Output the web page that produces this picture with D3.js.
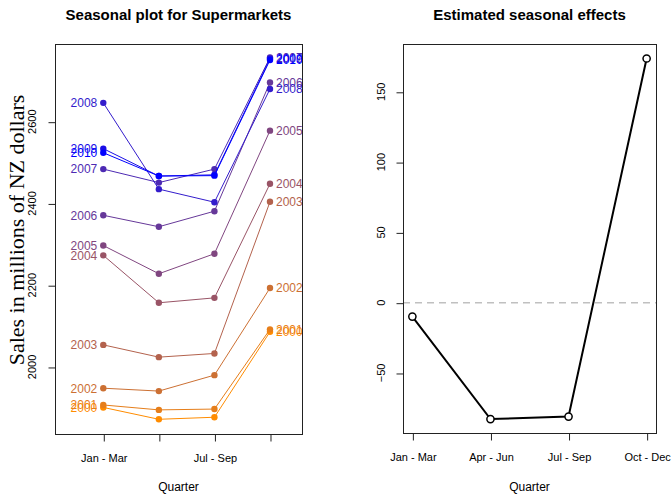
<!DOCTYPE html>
<html>
<head>
<meta charset="utf-8">
<script src="https://cdn.jsdelivr.net/npm/d3@7"></script>
<style>
  body { margin: 0; background: #fff; }
  svg { display: block; }
  text { font-family: "Liberation Sans", Arial, sans-serif; fill: #000; }
</style>
</head>
<body>
<svg id="chart" width="671" height="495"></svg>
<script>
// Quarterly supermarket sales (millions of NZ dollars), one array per year
const quarters = ["Jan - Mar", "Apr - Jun", "Jul - Sep", "Oct - Dec"];
const years = [2000, 2001, 2002, 2003, 2004, 2005, 2006, 2007, 2008, 2009, 2010];
const sales2000 = [1901, 1872, 1877, 2086];
const sales2001 = [1907, 1895, 1897, 2092];
const sales2002 = [1948, 1941, 1980, 2193];
const sales2003 = [2054, 2024, 2033, 2404];
const sales2004 = [2273, 2157, 2169, 2448];
const sales2005 = [2297, 2228, 2277, 2578];
const sales2006 = [2371, 2343, 2381, 2696];
const sales2007 = [2484, 2451, 2484, 2757];
const sales2008 = [2646, 2435, 2403, 2680];
const sales2009 = [2534, 2467, 2470, 2754];
const sales2010 = [2524, 2467, 2468, 2751];
const salesByYear = [sales2000, sales2001, sales2002, sales2003, sales2004, sales2005,
                     sales2006, sales2007, sales2008, sales2009, sales2010];

// Estimated seasonal effects per quarter
const seasonalEffects = [-9.9, -82.8, -81.0, 173.7];

const salesTicks = [2000, 2200, 2400, 2600];
const effectTicks = [-50, 0, 50, 100, 150];

const svg = d3.select("#chart");
const quarterIdx = quarters.map((q, i) => i + 1);

const yearColor = d3.scaleLinear()
  .domain([years[0], years[years.length - 1]])
  .range(["darkorange", "blue"])
  .interpolate(d3.interpolateRgb);

function frame(g, box) {
  g.append("rect")
    .attr("x", box.left + 0.5).attr("y", box.top + 0.5)
    .attr("width", box.right - box.left).attr("height", box.bottom - box.top)
    .attr("fill", "none").attr("stroke", "#222").attr("stroke-width", 1);
}

function xAxis(g, box, x, showLabel) {
  const ax = d3.axisBottom(x)
    .tickValues(quarterIdx)
    .tickSize(7).tickSizeOuter(0).tickPadding(13)
    .tickFormat((d, i) => showLabel(i) ? quarters[i] : "");
  const a = g.append("g").attr("transform", `translate(0.5,${box.bottom + 0.5})`).call(ax);
  a.select(".domain").remove();
  a.selectAll("line").attr("stroke", "#222");
  a.selectAll("text").attr("font-size", 11).attr("fill", "#000");
}

function yAxis(g, box, y, ticks, labelX) {
  const ax = d3.axisLeft(y).tickValues(ticks).tickSize(7).tickSizeOuter(0).tickFormat(d3.format("d"));
  const a = g.append("g").attr("transform", `translate(${box.left + 0.5},0.5)`).call(ax);
  a.select(".domain").remove();
  a.selectAll("line").attr("stroke", "#222");
  a.selectAll("text").remove();
  g.selectAll(null).data(ticks).enter().append("text")
    .attr("transform", d => `translate(${labelX},${y(d)}) rotate(-90)`)
    .attr("text-anchor", "middle")
    .attr("font-size", 11)
    .text(d => d3.format("d")(d));
}

function titles(g, box, title) {
  const cx = (box.left + box.right) / 2;
  g.append("text").attr("x", cx).attr("y", 20)
    .attr("text-anchor", "middle").attr("font-size", 15).attr("font-weight", "bold")
    .text(title);
  g.append("text").attr("x", cx).attr("y", 491)
    .attr("text-anchor", "middle").attr("font-size", 12)
    .text("Quarter");
}

// ---- Seasonal plot ----
const L = { left: 55, right: 302, top: 44, bottom: 434 };
const xL = d3.scaleLinear().domain([0.131, 4.576]).range([L.left, L.right]);
const yL = d3.scaleLinear().domain([1836, 2790]).range([L.bottom, L.top]);
const gL = svg.append("g");

const line = d3.line().x((d, i) => xL(i + 1)).y(d => yL(d));
salesByYear.forEach((vals, k) => {
  const col = yearColor(years[k]);
  gL.append("path").attr("d", line(vals))
    .attr("fill", "none").attr("stroke", col).attr("stroke-width", 1);
  gL.selectAll(null).data(vals).enter().append("circle")
    .attr("cx", (d, i) => xL(i + 1)).attr("cy", d => yL(d)).attr("r", 3.2)
    .attr("fill", col);
  gL.append("text")
    .attr("x", xL(1) - 6).attr("y", yL(vals[0])).attr("dy", "0.36em")
    .attr("text-anchor", "end").attr("font-size", 12).attr("fill", col)
    .style("fill", col)
    .text(years[k]);
  gL.append("text")
    .attr("x", xL(4) + 6).attr("y", yL(vals[3])).attr("dy", "0.36em")
    .attr("text-anchor", "start").attr("font-size", 12)
    .style("fill", col)
    .text(years[k]);
});

frame(gL, L);
xAxis(gL, L, xL, i => i % 2 === 0);
yAxis(gL, L, yL, salesTicks, 36);
titles(gL, L, "Seasonal plot for Supermarkets");
gL.append("text")
  .attr("transform", `translate(24,230) rotate(-90)`)
  .attr("text-anchor", "middle")
  .attr("font-family", "'Liberation Serif', 'Times New Roman', serif")
  .style("font-family", "'Liberation Serif', 'Times New Roman', serif")
  .attr("font-size", 22)
  .text("Sales in millions of NZ dollars");

// ---- Estimated seasonal effects ----
const R = { left: 403, right: 656, top: 44, bottom: 433 };
const xR = d3.scaleLinear().domain([0.88, 4.12]).range([R.left, R.right]);
const yR = d3.scaleLinear().domain([-92.7, 184.0]).range([R.bottom, R.top]);
const gR = svg.append("g");

gR.append("line")
  .attr("x1", R.left).attr("x2", R.right).attr("y1", yR(0)).attr("y2", yR(0))
  .attr("stroke", "#c0c0c0").attr("stroke-width", 1.5).attr("stroke-dasharray", "7,5");

gR.append("path")
  .attr("d", d3.line().x((d, i) => xR(i + 1)).y(d => yR(d))(seasonalEffects))
  .attr("fill", "none").attr("stroke", "#000").attr("stroke-width", 2);
gR.selectAll(null).data(seasonalEffects).enter().append("circle")
  .attr("cx", (d, i) => xR(i + 1)).attr("cy", d => yR(d)).attr("r", 3.6)
  .attr("fill", "#fff").attr("stroke", "#000").attr("stroke-width", 1.5);

frame(gR, R);
xAxis(gR, R, xR, () => true);
yAxis(gR, R, yR, effectTicks, 385);
titles(gR, R, "Estimated seasonal effects");
</script>
</body>
</html>
